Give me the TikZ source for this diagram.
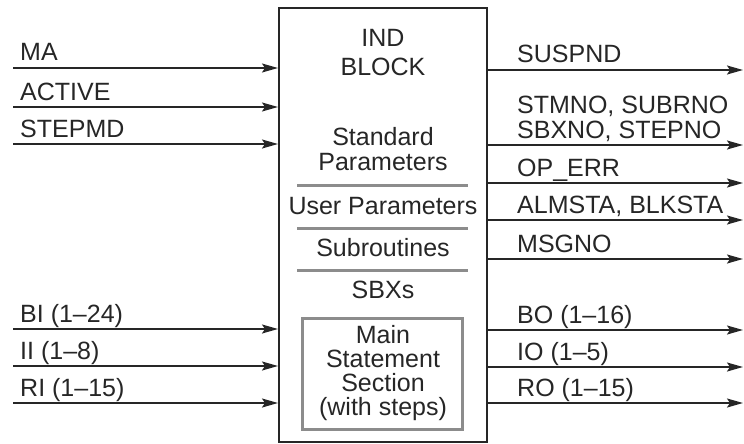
\documentclass[tikz,border=0pt]{standalone}
\usepackage{fontspec}
\setmainfont{Liberation Sans}
\usetikzlibrary{arrows.meta}
\begin{document}
\begin{tikzpicture}[x=1pt,y=-1pt,
  sig/.style={draw=black!85, line width=1.8pt,
    -{Stealth[length=16pt,width=9pt,inset=3pt]}},
  lbl/.style={anchor=base west, inner sep=0pt, text=black!85,
    font=\fontsize{25}{25}\selectfont},
  ctxt/.style={anchor=base, inner sep=0pt, text=black!85,
    font=\fontsize{25}{25}\selectfont},
  sep/.style={draw=black!45, line width=3pt},
  blockbox/.style={draw=black!85, line width=2pt, minimum width=208pt,
    minimum height=434pt, inner sep=0pt},
  mainbox/.style={draw=black!45, line width=3pt, minimum width=160pt,
    minimum height=111pt, inner sep=0pt}]
\useasboundingbox (0,0) rectangle (744,444);

% the IND block
\node[blockbox] (ind) at (383,225) {};

% inner sections
\node[ctxt] (t1) at (383,47) {IND};
\node[ctxt] (t2) at (383,76) {BLOCK};
\node[ctxt] (t3) at (383,145) {Standard};
\node[ctxt] (t4) at (383,170) {Parameters};
\draw[sep] (297,185) -- (468,185);
\node[ctxt] (t5) at (383,214) {User Parameters};
\draw[sep] (297,228) -- (468,228);
\node[ctxt] (t6) at (383,256) {Subroutines};
\draw[sep] (297,270) -- (468,270);
\node[ctxt] (t7) at (383,298) {SBXs};
\node[mainbox] (ms) at (382,373.5) {};
\node[ctxt] (m1) at (383,343) {Main};
\node[ctxt] (m2) at (383,367) {Statement};
\node[ctxt] (m3) at (383,391) {Section};
\node[ctxt] (m4) at (383,415) {(with steps)};

% inputs
\coordinate (iMA) at (13,68);
\coordinate (iAC) at (13,107);
\coordinate (iSM) at (13,144);
\coordinate (iBI) at (13,329);
\coordinate (iII) at (13,366);
\coordinate (iRI) at (13,403);
\foreach \c in {iMA,iAC,iSM,iBI,iII,iRI}
  \draw[sig] (\c) -- (\c -| ind.west);
\node[lbl] (lMA) at (20,61) {MA};
\node[lbl] (lAC) at (20,100) {ACTIVE};
\node[lbl] (lSM) at (20,137) {STEPMD};
\node[lbl] (lBI) at (20,322) {BI (1--24)};
\node[lbl] (lII) at (20,359) {II (1--8)};
\node[lbl] (lRI) at (20,396) {RI (1--15)};

% outputs
\coordinate (oSU) at (743,70);
\coordinate (oST) at (743,145);
\coordinate (oOP) at (743,183);
\coordinate (oAL) at (743,220);
\coordinate (oMS) at (743,259);
\coordinate (oBO) at (743,330);
\coordinate (oIO) at (743,367);
\coordinate (oRO) at (743,403);
\foreach \c in {oSU,oST,oOP,oAL,oMS,oBO,oIO,oRO}
  \draw[sig] (\c -| ind.east) -- (\c);
\node[lbl] (lSU) at (517,63) {SUSPND};
\node[lbl] (lST) at (517,113) {STMNO, SUBRNO};
\node[lbl] (lSB) at (517,138) {SBXNO, STEPNO};
\node[lbl] (lOP) at (517,176) {OP\_ERR};
\node[lbl] (lAL) at (517,213) {ALMSTA, BLKSTA};
\node[lbl] (lMS) at (517,252) {MSGNO};
\node[lbl] (lBO) at (517,323) {BO (1--16)};
\node[lbl] (lIO) at (517,360) {IO (1--5)};
\node[lbl] (lRO) at (517,396) {RO (1--15)};
\end{tikzpicture}
\end{document}
